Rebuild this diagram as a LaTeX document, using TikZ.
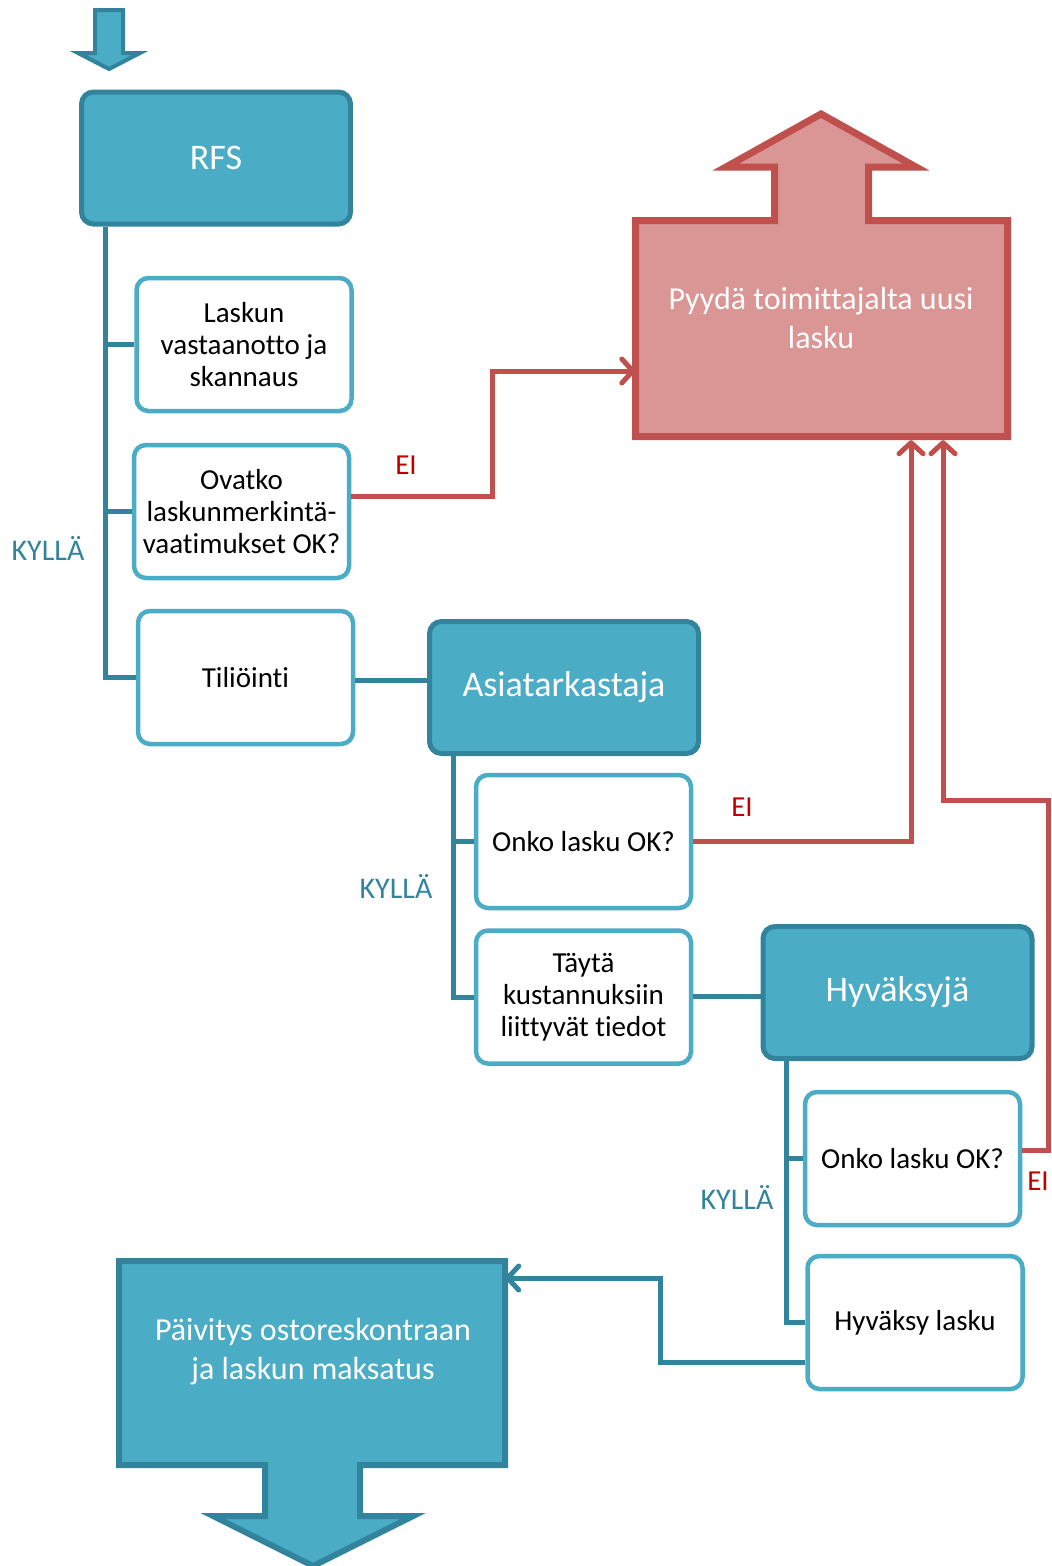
\documentclass[tikz,border=0pt]{standalone}
\usepackage{fontspec}
\setmainfont{Carlito}[Ligatures=NoCommon]
\usetikzlibrary{arrows.meta,calc}
\definecolor{dteal}{HTML}{31849B}
\definecolor{lteal}{HTML}{4BACC6}
\definecolor{rline}{HTML}{C0504D}
\definecolor{pinkf}{HTML}{D99694}
\definecolor{redtxt}{HTML}{C00000}
\begin{document}
\begin{tikzpicture}[x=1pt,y=-1pt,
  hdr/.style={draw=dteal, fill=lteal, line width=5pt, rounded corners=12pt, minimum width=269pt, minimum height=132pt, text=white, font=\fontsize{36}{44}\selectfont},
  wbox/.style={draw=lteal, fill=white, line width=4.5pt, rounded corners=12pt, minimum width=215pt, minimum height=133pt, align=center, font=\fontsize{29}{32}\selectfont},
  trunk/.style={draw=dteal, line width=5pt},
  redl/.style={draw=rline, line width=5pt},
  barb/.style={-{Straight Barb[length=11pt,width=24pt,round]}},
  lblk/.style={text=dteal, font=\fontsize{30}{36}\selectfont},
  lble/.style={text=redtxt, font=\fontsize{29}{36}\selectfont},
  bigtxt/.style={text=white, align=center, font=\fontsize{32}{39}\selectfont}
]
\useasboundingbox (0,0) rectangle (1052,1566);

% top entry arrow
\draw[draw=dteal, fill=lteal, line width=4pt] (95,10) -- (123,10) -- (123,53) -- (140,53) -- (109,69) -- (78,53) -- (95,53) -- cycle;

% header boxes
\node[hdr] (rfs) at (216,158) {RFS};
\node[hdr] (asia) at (564,687.5) {Asiatarkastaja};
\node[hdr] (hyvj) at (897.5,992.5) {Hyväksyjä};

% white boxes
\node[wbox] (lask) at (244,344.5) {Laskun\\vastaanotto ja\\skannaus};
\node[wbox] (ovat) at (241.5,511.5) {Ovatko\\laskunmerkintä-\\vaatimukset OK?};
\node[wbox] (tili) at (245.5,677.5) {Tiliöinti};
\node[wbox] (onko1) at (583.5,841.5) {Onko lasku OK?};
\node[wbox] (tayta) at (583.5,997) {Täytä\\kustannuksiin\\liittyvät tiedot};
\node[wbox] (onko2) at (912.5,1158.5) {Onko lasku OK?};
\node[wbox] (hyvl) at (915,1322.5) {Hyväksy lasku};

% pink request box with upward arrow
\node[minimum width=372pt, minimum height=216pt, inner sep=0pt] (pink) at (821.5,328.5) {};
\draw[draw=rline, fill=pinkf, line width=7pt] (635.5,220.5) -- (774.5,220.5) -- (774.5,167) -- (726,167) -- (821,114) -- (916,167) -- (868.5,167) -- (868.5,220.5) -- (1007.5,220.5) -- (1007.5,436.5) -- (635.5,436.5) -- cycle;
\node[bigtxt] (pinktxt) at (821,318) {Pyydä toimittajalta uusi\\lasku};

% final box with downward arrow
\node[minimum width=386pt, minimum height=204pt, inner sep=0pt] (paiv) at (312,1363) {};
\draw[draw=dteal, fill=lteal, line width=6pt] (119,1261) -- (505,1261) -- (505,1465) -- (360,1465) -- (360,1516) -- (413,1516) -- (313,1566) -- (213,1516) -- (265,1516) -- (265,1465) -- (119,1465) -- cycle;
\node[bigtxt] (paivtxt) at (313,1352) {Päivitys ostoreskontraan\\ja laskun maksatus};

% trunks
\coordinate (t1) at ($(rfs.south west)+(26,0)$);
\draw[trunk] (t1) |- (lask.west);
\draw[trunk] (t1) |- (ovat.west);
\draw[trunk] (t1) |- (tili.west);
\coordinate (c1) at ($(tili.east)+(0,2.5)$);
\draw[trunk] (c1) -- (c1 -| asia.west);

\coordinate (t2) at ($(asia.south west)+(26.5,0)$);
\draw[trunk] (t2) |- (onko1.west);
\draw[trunk] (t2) |- (tayta.west);
\coordinate (c2) at ($(tayta.east)+(0,-1)$);
\draw[trunk] (c2) -- (c2 -| hyvj.west);

\coordinate (t3) at ($(hyvj.south west)+(26,0)$);
\draw[trunk] (t3) |- (onko2.west);
\draw[trunk] (t3) |- (hyvl.west);

% to final box
\coordinate (h1) at ($(hyvl.west)+(0,39.5)$);
\coordinate (h2) at (660,1278);
\draw[trunk, barb] (h1) -| (h2) -- (h2 -| paiv.east);

% red EI lines
\coordinate (r0) at ($(ovat.east)+(0,-15)$);
\coordinate (r1) at (492,371);
\draw[redl, barb] (r0) -| (r1) -- (r1 -| pink.west);

\coordinate (p2) at ($(pink.south)+(89.5,3.5)$);
\coordinate (p3) at ($(pink.south)+(121.5,3.5)$);
\draw[redl, barb] (onko1.east) -| (p2);
\coordinate (r2) at ($(onko2.east)+(0,-8)$);
\draw[redl, barb] (r2) -| (1048,800) -| (p3);

% labels
\node[lblk] (k1) at (48,548) {KYLLÄ};
\node[lblk] (k2) at (396,886) {KYLLÄ};
\node[lblk] (k3) at (737,1197) {KYLLÄ};
\node[lble] (e1) at (406,465) {EI};
\node[lble] (e2) at (742,807) {EI};
\node[lble] (e3) at (1038,1181) {EI};
\end{tikzpicture}
\end{document}
